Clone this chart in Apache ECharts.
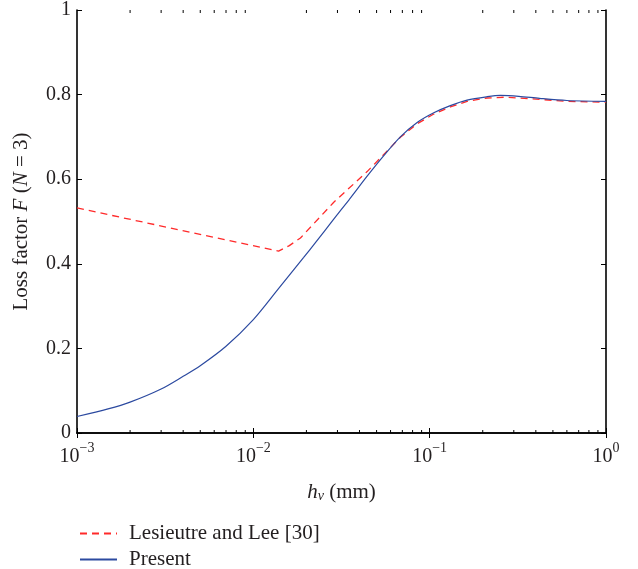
<!DOCTYPE html>
<html>
<head>
<meta charset="utf-8">
<script src="https://cdn.jsdelivr.net/npm/echarts@6/dist/echarts.min.js"></script>
<style>html,body{margin:0;padding:0;background:#fff}#c{width:638px;height:569px}</style>
</head>
<body>
<div id="c"></div>
<script>
// Present model
const hvPresent = [0.001, 0.0015, 0.002, 0.003, 0.004, 0.005, 0.007, 0.01, 0.014, 0.0193, 0.0225, 0.0285, 0.035, 0.0442, 0.0548, 0.0682, 0.0849, 0.1055, 0.131, 0.163, 0.212, 0.252, 0.32, 0.42, 0.6, 1.0];
const fPresent  = [0.039, 0.057, 0.073, 0.104, 0.134, 0.159, 0.205, 0.268, 0.343, 0.415, 0.450, 0.505, 0.552, 0.607, 0.655, 0.700, 0.734, 0.757, 0.774, 0.787, 0.795, 0.798, 0.796, 0.791, 0.786, 0.784];
// Lesieutre and Lee [30]
const hvLesieutre = [0.001, 0.0139, 0.016, 0.0185, 0.0285, 0.0442, 0.0548, 0.0682, 0.0849, 0.1055, 0.131, 0.163, 0.212, 0.27, 0.38, 0.6, 1.0];
const fLesieutre  = [0.532, 0.430, 0.443, 0.461, 0.545, 0.618, 0.658, 0.699, 0.731, 0.754, 0.771, 0.784, 0.792, 0.794, 0.790, 0.784, 0.782];
// axis ticks
const xMajor = [0.001, 0.01, 0.1, 1];
const xMinorMult = [2, 3, 4, 5, 6, 7, 8, 9];
const xMinor = [];
for (const d of xMajor.slice(0, 3)) for (const m of xMinorMult) xMinor.push(+(d * m).toPrecision(3));
const yMin = 0, yMax = 1, yStep = 0.2;

const FONT = '"Liberation Serif", "DejaVu Serif", serif';
const TXT = '#231f20';

const chart = echarts.init(document.getElementById('c'));
const axisLineStyle = { lineStyle: { color: '#000', width: 1.6 } };
const tickStyle = { inside: true, length: 5, lineStyle: { color: '#000', width: 1 } };

function expLabel(v) {
  const e = Math.round(Math.log10(v));
  return '{b|10}{s|' + (e < 0 ? '\u2212' + (-e) : e) + '}';
}
const legendBase = {
  orient: 'vertical', left: 79, itemWidth: 37, itemHeight: 14, padding: 0,
  itemStyle: { opacity: 0 },
  textStyle: { fontFamily: FONT, fontSize: 21, color: TXT, padding: [0, 0, 0, 7] }
};

chart.setOption({
  animation: false,
  grid: { left: 77, right: 32, top: 9.5, bottom: 136, containLabel: false },
  xAxis: [
    {
      type: 'log', logBase: 10, min: 0.001, max: 1, position: 'bottom',
      axisLine: axisLineStyle, axisTick: tickStyle, splitLine: { show: false },
      axisLabel: {
        formatter: expLabel, margin: 8,
        rich: {
          b: { fontFamily: FONT, fontSize: 20, color: TXT, verticalAlign: 'bottom', lineHeight: 26 },
          s: { fontFamily: FONT, fontSize: 14, color: TXT, verticalAlign: 'top', lineHeight: 14 }
        }
      },
      name: '{i|h}{sub|v}{r| (mm)}', nameLocation: 'middle', nameGap: 47,
      nameTextStyle: {
        rich: {
          i: { fontFamily: FONT, fontSize: 21, fontStyle: 'italic', color: TXT, verticalAlign: 'bottom', lineHeight: 23 },
          sub: { fontFamily: FONT, fontSize: 14, fontStyle: 'italic', color: TXT, verticalAlign: 'bottom', lineHeight: 18 },
          r: { fontFamily: FONT, fontSize: 21, color: TXT, verticalAlign: 'bottom', lineHeight: 23 }
        }
      }
    },
    {
      type: 'log', logBase: 10, min: 0.001, max: 1, position: 'top',
      axisLine: axisLineStyle, axisTick: tickStyle, axisLabel: { show: false }, splitLine: { show: false }
    }
  ],
  yAxis: [
    {
      type: 'value', min: yMin, max: yMax, interval: yStep, position: 'left',
      axisLine: { show: true, ...axisLineStyle }, axisTick: { show: true, ...tickStyle }, splitLine: { show: false },
      axisLabel: { fontFamily: FONT, fontSize: 20, color: TXT, margin: 6 },
      name: '{r|Loss factor }{i|F}{r| (}{i|N}{r| = 3)}', nameLocation: 'middle', nameGap: 45, nameRotate: 90,
      nameTextStyle: {
        rich: {
          r: { fontFamily: FONT, fontSize: 21, color: TXT },
          i: { fontFamily: FONT, fontSize: 21, fontStyle: 'italic', color: TXT }
        }
      }
    },
    {
      type: 'value', min: yMin, max: yMax, interval: yStep, position: 'right',
      axisLine: { show: true, ...axisLineStyle }, axisTick: { show: true, ...tickStyle }, splitLine: { show: false },
      axisLabel: { show: false }
    }
  ],
  legend: [
    { ...legendBase, top: 523, data: ['Lesieutre and Lee [30]'] },
    { ...legendBase, top: 549, data: ['Present'] }
  ],
  series: [
    {
      name: 'Lesieutre and Lee [30]', type: 'line', symbol: 'none', smooth: false,
      data: hvLesieutre.map((x, i) => [x, fLesieutre[i]]),
      lineStyle: { color: '#ff2a2a', width: 1.3, type: [7, 5] }, itemStyle: { color: '#ff2a2a' }, z: 3
    },
    {
      name: 'Present', type: 'line', symbol: 'none', smooth: 0.3,
      data: hvPresent.map((x, i) => [x, fPresent[i]]),
      lineStyle: { color: '#2c4aa0', width: 1.2 }, itemStyle: { color: '#2c4aa0' }, z: 4
    },
    {
      name: 'minorTicks', type: 'custom', silent: true, z: 5,
      data: xMinor.map(v => [v]),
      renderItem: function (params, api) {
        const p0 = api.coord([api.value(0), 0]);
        const p1 = api.coord([api.value(0), 1]);
        const st = { stroke: '#000', lineWidth: 1 };
        return {
          type: 'group', children: [
            { type: 'line', shape: { x1: p0[0], y1: p0[1], x2: p0[0], y2: p0[1] - 3 }, style: st },
            { type: 'line', shape: { x1: p1[0], y1: p1[1], x2: p1[0], y2: p1[1] + 3 }, style: st }
          ]
        };
      }
    }
  ]
});
</script>
</body>
</html>
